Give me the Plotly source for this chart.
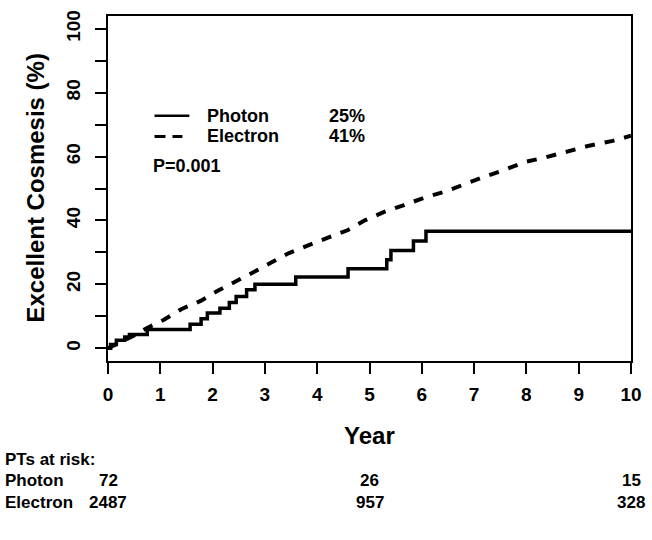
import plotly.graph_objects as go

# ---------------- data ----------------
x_ticks = [0, 1, 2, 3, 4, 5, 6, 7, 8, 9, 10]
y_ticks = [0, 10, 20, 30, 40, 50, 60, 70, 80, 90, 100]
y_tick_labels = ["0", "", "20", "", "40", "", "60", "", "80", "", "100"]

# Photon: Kaplan-Meier style step function (time in years, cumulative %)
photon_t = [0, 0.05, 0.16, 0.32, 0.41, 0.75, 1.57, 1.78, 1.90, 2.14, 2.32, 2.45,
            2.65, 2.81, 3.59, 4.59, 5.33, 5.41, 5.84, 6.08, 10.0]
photon_y = [0, 1.2, 2.5, 3.5, 4.3, 5.9, 7.5, 9.2, 11.0, 12.5, 14.3, 16.2,
            18.3, 20.0, 22.3, 24.9, 27.7, 30.6, 33.6, 36.6, 36.6]

# Electron: many small steps, read as a smooth-ish curve
electron_t = [0, 0.25, 0.5, 0.73, 1.07, 1.41, 1.77, 2.09, 2.44, 2.78, 3.13, 3.46,
              3.84, 4.21, 4.59, 4.92, 5.27, 5.66, 6.06, 6.44, 6.82, 7.2, 7.59,
              7.97, 8.38, 8.79, 9.2, 9.65, 10.0]
electron_y = [0, 2.0, 4.0, 6.2, 8.9, 12.3, 14.8, 17.9, 20.8, 23.8, 26.9, 29.8,
              32.3, 34.7, 37.0, 40.1, 42.6, 44.8, 47.2, 49.0, 51.4, 53.7, 55.9,
              58.3, 59.8, 61.7, 63.4, 64.9, 66.5]

series_names = ["Photon", "Electron"]
series_pct = ["25%", "41%"]
p_value_text = "P=0.001"

risk_times = [0, 5, 10]
photon_risk = [72, 26, 15]
electron_risk = [2487, 957, 328]

# ---------------- layout helpers ----------------
W, H = 652, 540
L, R, T, B = 108.3, 633.5, 10.7, 361.0
FONT = "Liberation Sans, Arial, Helvetica, sans-serif"


def xp(px):
    return (px - L) / (R - L)


def yp(py):
    return (B - py) / (B - T)


fig = go.Figure()
fig.add_trace(go.Scatter(x=photon_t, y=photon_y, mode="lines", line_shape="hv",
                         line=dict(color="black", width=3.5), name=series_names[0],
                         showlegend=False))
fig.add_trace(go.Scatter(x=electron_t, y=electron_y, mode="lines",
                         line=dict(color="black", width=4, dash="10px,10px"),
                         name=series_names[1], showlegend=False))

bold = dict(family=FONT, color="black", weight="bold")

annotations = []
shapes = []

# legend-like key inside the plot
legend_rows = [112, 133]
line_ends = [190, 183]
dashes = ["solid", "11px,7px"]
for i in range(2):
    shapes.append(dict(type="line", xref="paper", yref="paper",
                       x0=xp(155), x1=xp(line_ends[i]), y0=yp(legend_rows[i]), y1=yp(legend_rows[i]),
                       line=dict(color="black", width=2.5 if i == 0 else 3, dash=dashes[i])))
    annotations.append(dict(xref="paper", yref="paper", x=xp(206), y=yp(legend_rows[i]),
                            text=series_names[i], showarrow=False, xanchor="left",
                            yanchor="middle", font=dict(size=18, **bold)))
    annotations.append(dict(xref="paper", yref="paper", x=xp(328), y=yp(legend_rows[i]),
                            text=series_pct[i], showarrow=False, xanchor="left",
                            yanchor="middle", font=dict(size=18, **bold)))
annotations.append(dict(xref="paper", yref="paper", x=xp(151), y=yp(163),
                        text=p_value_text, showarrow=False, xanchor="left",
                        yanchor="middle", font=dict(size=18, **bold)))

# axis titles
annotations.append(dict(xref="paper", yref="paper", x=xp(35), y=0.5, textangle=-90,
                        text="Excellent Cosmesis (%)", showarrow=False,
                        xanchor="center", yanchor="middle", font=dict(size=24, **bold)))
annotations.append(dict(xref="paper", yref="paper", x=0.5, y=yp(436.7),
                        text="Year", showarrow=False,
                        xanchor="center", yanchor="middle", font=dict(size=24, **bold)))

# at-risk table
row_y = {"head": 460.7, "Photon": 482.7, "Electron": 504.3}
annotations.append(dict(xref="paper", yref="paper", x=xp(3), y=yp(row_y["head"]),
                        text="PTs at risk:", showarrow=False, xanchor="left",
                        yanchor="middle", font=dict(size=17, **bold)))
for name, counts in zip(series_names, [photon_risk, electron_risk]):
    annotations.append(dict(xref="paper", yref="paper", x=xp(3), y=yp(row_y[name]),
                            text=name, showarrow=False, xanchor="left",
                            yanchor="middle", font=dict(size=17, **bold)))
    for t, c in zip(risk_times, counts):
        annotations.append(dict(xref="x", yref="paper", x=t, y=yp(row_y[name]),
                                text=str(c), showarrow=False, xanchor="center",
                                yanchor="middle", font=dict(size=17, **bold)))

fig.update_layout(
    width=W, height=H, autosize=False,
    margin=dict(l=L, r=W - R, t=T, b=H - B, pad=0),
    paper_bgcolor="white", plot_bgcolor="white",
    annotations=annotations, shapes=shapes, showlegend=False,
    font=dict(family=FONT, color="black"),
)
fig.update_xaxes(range=[0, 10], tickvals=x_ticks, ticktext=[str(v) for v in x_ticks],
                 ticks="outside", ticklen=11, tickwidth=1.5, tickcolor="black",
                 showline=True, linecolor="black", linewidth=2, mirror=True,
                 showgrid=False, zeroline=False, ticklabelstandoff=4,
                 tickfont=dict(size=19, **bold))
fig.update_yaxes(range=[-4, 104], tickvals=y_ticks, ticktext=y_tick_labels,
                 ticks="outside", ticklen=11, tickwidth=1.5, tickcolor="black",
                 showline=True, linecolor="black", linewidth=2, mirror=True,
                 showgrid=False, zeroline=False, tickangle=-90, ticklabelstandoff=7,
                 tickfont=dict(size=19, **bold))

fig.write_html("out.html", config={"displayModeBar": False},
               post_script="document.body.style.margin='0';document.body.style.overflow='hidden';")
